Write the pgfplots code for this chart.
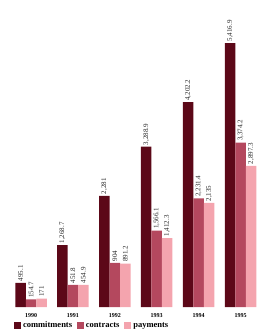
\documentclass[border=0pt]{standalone}
\usepackage{pgfplots}
\pgfplotsset{compat=1.18}
\usepackage{fontspec}
\setmainfont{Liberation Serif}
\definecolor{cdark}{RGB}{92,8,24}
\definecolor{cmid}{RGB}{180,72,94}
\definecolor{clight}{RGB}{244,164,174}
\begin{document}
\begin{tikzpicture}
\begin{axis}[
  at={(0pt,23pt)}, anchor=south west,
  scale only axis, width=260pt, height=307pt,
  xmin=-0.74, xmax=5.465, ymin=0, ymax=6300,
  ybar=0pt, bar width=10.5pt,
  clip=false,
  hide y axis,
  axis x line*=bottom,
  x axis line style={draw=none},
  xtick={0,1,2,3,4,5},
  xticklabels={1990,1991,1992,1993,1994,1995},
  xtick style={draw=none},
  xticklabel style={font=\fontsize{6}{7}\selectfont\bfseries, yshift=1.5pt},
  nodes near coords,
  nodes near coords style={rotate=90, anchor=west, font=\fontsize{7}{8}\selectfont, text=black!85, inner sep=1.5pt,
    /pgf/number format/.cd, fixed, precision=1, 1000 sep={,}, assume math mode=true},
  legend columns=3,
  legend style={at={(14pt,-18.5pt)}, anchor=west, draw=none, fill=none, inner sep=0pt,
    font=\fontsize{8.5}{9}\selectfont\bfseries, /tikz/every even column/.append style={column sep=3pt}},
  legend image code/.code={\fill[#1] (0cm,-0.11cm) rectangle (0.24cm,0.13cm);},
]
\addplot[fill=cdark, draw=none] coordinates {(0,495.1) (1,1268.7) (2,2281) (3,3288.9) (4,4202.2) (5,5416.9)};
\addplot[fill=cmid, draw=none] coordinates {(0,154.7) (1,451.8) (2,904) (3,1566.1) (4,2231.4) (5,3374.2)};
\addplot[fill=clight, draw=none] coordinates {(0,171) (1,454.9) (2,891.2) (3,1412.3) (4,2135) (5,2897.3)};
\legend{commitments, contracts, payments}
\end{axis}
\pgfresetboundingbox
\path[use as bounding box] (0,0) rectangle (260pt,330pt);
\end{tikzpicture}
\end{document}
